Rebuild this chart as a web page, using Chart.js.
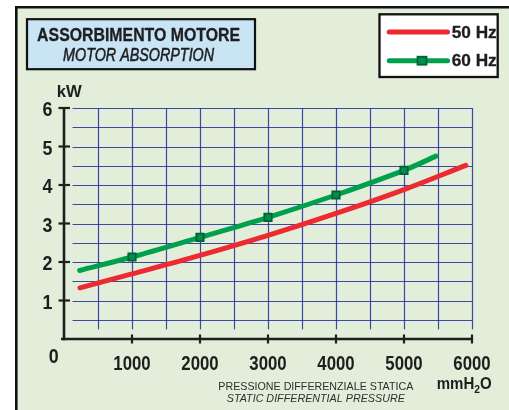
<!DOCTYPE html>
<html lang="it">
<head>
<meta charset="UTF-8">
<title>Assorbimento motore</title>
<script src="https://cdn.jsdelivr.net/npm/chart.js"></script>
<style>
  body { margin: 0; background: #fff; }
  #wrap { width: 509px; height: 410px; }
</style>
</head>
<body>
<div id="wrap"><canvas id="chart" width="509" height="410"></canvas></div>
<script>
// values (pressure in mmH2O, power in kW)
const pressure50 = [235, 1000, 2000, 3000, 4000, 5000, 5910];
const power50 = [1.33, 1.69, 2.17, 2.69, 3.26, 3.88, 4.51];
const pressure60 = [230, 1000, 2000, 3000, 4000, 5000, 5470];
const power60 = [1.78, 2.13, 2.64, 3.16, 3.74, 4.38, 4.75];
const xTicks = [0, 1000, 2000, 3000, 4000, 5000, 6000];
const yTicks = [0, 1, 2, 3, 4, 5, 6];
const seriesLabels = ['50 Hz', '60 Hz'];
const titleLines = ['ASSORBIMENTO MOTORE', 'MOTOR ABSORPTION'];
const xTitleLines = ['PRESSIONE DIFFERENZIALE STATICA', 'STATIC DIFFERENTIAL PRESSURE'];
const yUnit = 'kW';

const RED = '#ec2a30';
const GREEN = '#00a04c';
const INK = '#1e1e1e';
const PANEL = '#e2edda';
const TITLE_BG = '#c8e4f5';
const GRID = 'rgba(30, 45, 155, 0.85)';
const SANS = '"Liberation Sans", Arial, sans-serif';
const TICK_FONT = 'bold 21px ' + SANS;

// draw text squeezed to a given width (or scale factor when width < 0)
function fitText(ctx, text, cx, baseline, width, font, color, align, heavy) {
  ctx.save();
  ctx.font = font;
  const w = ctx.measureText(text).width;
  const k = width > 0 ? width / w : -width;
  ctx.translate(cx, baseline);
  ctx.scale(k, 1);
  ctx.textAlign = align || 'center';
  ctx.textBaseline = 'alphabetic';
  ctx.fillStyle = color;
  ctx.fillText(text, 0, 0);
  if (heavy) {
    ctx.strokeStyle = color;
    ctx.lineWidth = heavy;
    ctx.strokeText(text, 0, 0);
  }
  ctx.restore();
}

function line(ctx, x1, y1, x2, y2) {
  ctx.beginPath();
  ctx.moveTo(x1, y1);
  ctx.lineTo(x2, y2);
  ctx.stroke();
}

const decorPlugin = {
  id: 'decor',
  beforeDraw(chart) {
    const ctx = chart.ctx;
    const xs = chart.scales.x, ys = chart.scales.y;
    ctx.save();
    ctx.fillStyle = '#fff';
    ctx.fillRect(0, 0, chart.width, chart.height);
    // panel with frame
    ctx.fillStyle = PANEL;
    ctx.fillRect(16, 7, chart.width, chart.height);
    ctx.strokeStyle = '#111';
    ctx.lineWidth = 2.6;
    ctx.beginPath();
    ctx.moveTo(16.3, chart.height + 5);
    ctx.lineTo(16.3, 7.3);
    ctx.lineTo(chart.width + 5, 7.3);
    ctx.stroke();

    // title box
    ctx.fillStyle = TITLE_BG;
    ctx.fillRect(27, 19.2, 228, 50);
    ctx.lineWidth = 2.2;
    ctx.strokeRect(27, 19.2, 228, 50);

    // legend box
    ctx.fillStyle = '#fff';
    ctx.fillRect(379.5, 14.3, 118.2, 62.7);
    ctx.lineWidth = 2.3;
    ctx.strokeRect(379.5, 14.3, 118.2, 62.7);

    // grid
    ctx.strokeStyle = GRID;
    ctx.lineWidth = 1.2;
    const top = ys.getPixelForValue(6), gBottom = ys.getPixelForValue(0.25);
    for (let v = 500; v <= 6000; v += 500) {
      const px = Math.round(xs.getPixelForValue(v)) + 0.5;
      line(ctx, px, top, px, gBottom);
    }
    const gLeft = xs.getPixelForValue(125), gRight = xs.getPixelForValue(6000);
    for (let v = 0.5; v <= 6; v += 0.5) {
      const py = Math.round(ys.getPixelForValue(v)) + 0.5;
      line(ctx, gLeft, py, gRight, py);
    }
    ctx.restore();
  },
  beforeDatasetsDraw(chart) {
    const ctx = chart.ctx;
    const xs = chart.scales.x, ys = chart.scales.y;
    const x0 = xs.getPixelForValue(0), y0 = ys.getPixelForValue(0);
    ctx.save();
    ctx.strokeStyle = INK;
    ctx.lineWidth = 2.6;
    line(ctx, x0, ys.getPixelForValue(6) - 1, x0, y0 + 1.3);
    line(ctx, x0 - 3, y0, xs.getPixelForValue(6000) + 1, y0);
    ctx.lineWidth = 2.2;
    yTicks.slice(1).forEach(v => {
      const py = ys.getPixelForValue(v);
      line(ctx, x0 - 5.5, py, x0 + 6, py);
    });
    xTicks.slice(1).forEach(v => {
      const px = xs.getPixelForValue(v);
      line(ctx, px, y0 - 4.5, px, y0 + 4.5);
    });
    ctx.restore();

    // tick labels, condensed like the original lettering
    xs.ticks.forEach(t => {
      if (t.value === 0) return;
      fitText(ctx, String(t.value), xs.getPixelForValue(t.value), 370, -0.8, TICK_FONT, INK);
    });
    ys.ticks.forEach(t => {
      if (t.value === 0) return;
      fitText(ctx, String(t.value), 52.5, ys.getPixelForValue(t.value) + 8, -0.85, TICK_FONT, INK, 'right');
    });
    fitText(ctx, String(xTicks[0]), 53.8, 363, -0.85, TICK_FONT, INK);
  },
  afterDraw(chart) {
    const ctx = chart.ctx;
    const ds = chart.data.datasets;

    // title
    fitText(ctx, titleLines[0], 138.6, 41, 203, 'bold 17.5px ' + SANS, INK, 'center', 0.3);
    fitText(ctx, titleLines[1], 138.6, 61.3, 151, 'italic 18.5px ' + SANS, INK, 'center', 0.55);

    // legend
    ctx.save();
    ctx.lineCap = 'round';
    ctx.lineWidth = 5;
    ctx.strokeStyle = ds[0].borderColor;
    line(ctx, 389.2, 32, 447.5, 32);
    ctx.strokeStyle = ds[1].borderColor;
    line(ctx, 389.2, 60.7, 447.5, 60.7);
    ctx.fillStyle = ds[1].pointBackgroundColor;
    ctx.strokeStyle = ds[1].pointBorderColor;
    ctx.lineWidth = 1.8;
    ctx.fillRect(417.5, 56.7, 9, 8);
    ctx.strokeRect(417.5, 56.7, 9, 8);
    ctx.restore();
    fitText(ctx, ds[0].label, 474.2, 37.5, 45, 'bold 16px ' + SANS, INK, 'center', 0.3);
    fitText(ctx, ds[1].label, 474.2, 66, 45, 'bold 16px ' + SANS, INK, 'center', 0.3);

    // axis unit and titles
    fitText(ctx, yUnit, 69.2, 97, 25, 'bold 17px ' + SANS, INK);
    fitText(ctx, xTitleLines[0], 315.8, 390, 195, '11.5px ' + SANS, '#2e2e2e');
    fitText(ctx, xTitleLines[1], 315.8, 401.6, 178, 'italic 11.5px ' + SANS, '#2e2e2e');

    // mmH2O with subscript
    ctx.save();
    const big = 'bold 16px ' + SANS, small = 'bold 11px ' + SANS;
    ctx.font = big; const w1 = ctx.measureText('mmH').width, w3 = ctx.measureText('O').width;
    ctx.font = small; const w2 = ctx.measureText('2').width;
    const k = 55 / (w1 + w2 + w3);
    ctx.translate(436.7, 0);
    ctx.scale(k, 1);
    ctx.fillStyle = INK;
    ctx.textBaseline = 'alphabetic';
    ctx.font = big; ctx.fillText('mmH', 0, 388.8);
    ctx.font = small; ctx.fillText('2', w1, 393);
    ctx.font = big; ctx.fillText('O', w1 + w2, 388.8);
    ctx.restore();
  }
};

const ctx = document.getElementById('chart').getContext('2d');
new Chart(ctx, {
  type: 'line',
  data: {
    datasets: [
      {
        label: seriesLabels[0],
        data: pressure50.map((x, i) => ({ x, y: power50[i] })),
        borderColor: RED,
        borderWidth: 5,
        borderCapStyle: 'round',
        pointRadius: 0,
        tension: 0.35,
        fill: false
      },
      {
        label: seriesLabels[1],
        data: pressure60.map((x, i) => ({ x, y: power60[i] })),
        borderColor: GREEN,
        borderWidth: 5,
        borderCapStyle: 'round',
        pointStyle: 'rect',
        pointRadius: c => (c.dataIndex === 0 || c.dataIndex === pressure60.length - 1) ? 0 : 5.2,
        pointBackgroundColor: '#00904a',
        pointBorderColor: '#00613a',
        pointBorderWidth: 1.8,
        tension: 0.35,
        fill: false
      }
    ]
  },
  options: {
    responsive: false,
    animation: false,
    layout: { padding: { top: 108, right: 37, left: 0, bottom: 0 } },
    plugins: { legend: { display: false }, tooltip: { enabled: false } },
    scales: {
      x: {
        type: 'linear', min: 0, max: 6000,
        afterBuildTicks: s => { s.ticks = xTicks.map(v => ({ value: v })); },
        afterFit: s => { s.height = 71; },
        grid: { display: false, drawTicks: false },
        border: { display: false },
        ticks: { display: false }
      },
      y: {
        min: 0, max: 6,
        afterBuildTicks: s => { s.ticks = yTicks.map(v => ({ value: v })); },
        afterFit: s => { s.width = 64; },
        grid: { display: false, drawTicks: false },
        border: { display: false },
        ticks: { display: false }
      }
    }
  },
  plugins: [decorPlugin]
});
</script>
</body>
</html>
